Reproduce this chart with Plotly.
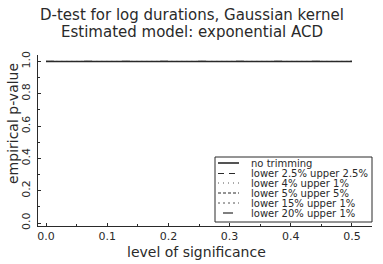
import plotly.graph_objects as go

levels = [0.0, 0.05, 0.1, 0.15, 0.2, 0.25, 0.3, 0.35, 0.4, 0.45, 0.5]
series_names = ["no trimming", "lower 2.5% upper 2.5%", "lower 4% upper 1%",
                "lower 5% upper 5%", "lower 15% upper 1%", "lower 20% upper 1%"]
pvalues = {
    "no trimming":           [1.0, 1.0, 1.0, 1.0, 1.0, 1.0, 1.0, 1.0, 1.0, 1.0, 1.0],
    "lower 2.5% upper 2.5%": [1.0, 1.0, 1.0, 1.0, 1.0, 1.0, 1.0, 1.0, 1.0, 1.0, 1.0],
    "lower 4% upper 1%":     [1.0, 1.0, 1.0, 1.0, 1.0, 1.0, 1.0, 1.0, 1.0, 1.0, 1.0],
    "lower 5% upper 5%":     [1.0, 1.0, 1.0, 1.0, 1.0, 1.0, 1.0, 1.0, 1.0, 1.0, 1.0],
    "lower 15% upper 1%":    [1.0, 1.0, 1.0, 1.0, 1.0, 1.0, 1.0, 1.0, 1.0, 1.0, 1.0],
    "lower 20% upper 1%":    [1.0, 1.0, 1.0, 1.0, 1.0, 1.0, 1.0, 1.0, 1.0, 1.0, 1.0],
}
dashes = ["solid", "6px,5px", "1px,4px", "3px,2px", "2px,3px", "8px,30px"]
widths = [1.6, 1.1, 0.8, 1.1, 0.8, 1.2]
x_ticks = [0.0, 0.1, 0.2, 0.3, 0.4, 0.5]
x_ticklabels = ["0.0", "0.1", "0.2", "0.3", "0.4", "0.5"]
y_ticks = [0.0, 0.2, 0.4, 0.6, 0.8, 1.0]
y_ticklabels = ["0.0", "0.2", "0.4", "0.6", "0.8", "1.0"]

W, H = 383, 264
L, R, T, B = 38, 11, 55, 38
ink = "#2a2a2a"
FONT = "DejaVu Sans"


def px(x):
    return (x - L) / (W - L - R)


def py(y):
    return (H - B - y) / (H - T - B)


fig = go.Figure()
for name, d, w in zip(series_names, dashes, widths):
    fig.add_trace(go.Scatter(x=levels, y=pvalues[name], mode="lines", name=name,
                             showlegend=False, hoverinfo="skip",
                             line=dict(color=ink, width=w, dash=d)))

shapes = []
annotations = []
# legend box
shapes.append(dict(type="rect", xref="paper", yref="paper",
                   x0=px(215), x1=px(372), y0=py(222), y1=py(157),
                   line=dict(color=ink, width=1), fillcolor="white", layer="above"))
row_y = [163, 173.5, 183, 193, 203, 213]
for name, d, w, ry in zip(series_names, dashes, widths, row_y):
    shapes.append(dict(type="line", xref="paper", yref="paper",
                       x0=px(218), x1=px(239), y0=py(ry), y1=py(ry),
                       line=dict(color=ink, width=w, dash=("6px,5px" if d == "8px,30px" else d)),
                       layer="above"))
    annotations.append(dict(text=name, xref="paper", yref="paper",
                            x=px(249), y=py(ry), xanchor="left", yanchor="middle",
                            showarrow=False, font=dict(size=10, family=FONT, color=ink)))
# last legend sample: single short dash in the middle
shapes[-1]["x0"] = px(223)
shapes[-1]["x1"] = px(233)
shapes[-1]["line"]["dash"] = "solid"

# title lines
annotations.append(dict(text="D-test for log durations, Gaussian kernel", xref="paper", yref="paper",
                        x=px(192), y=py(15), xanchor="center", yanchor="middle", showarrow=False,
                        font=dict(size=15, family=FONT, color=ink)))
annotations.append(dict(text="Estimated model: exponential ACD", xref="paper", yref="paper",
                        x=px(192), y=py(32), xanchor="center", yanchor="middle", showarrow=False,
                        font=dict(size=15, family=FONT, color=ink)))
# axis titles
annotations.append(dict(text="level of significance", xref="paper", yref="paper",
                        x=px(196), y=py(252), xanchor="center", yanchor="middle", showarrow=False,
                        font=dict(size=14, family=FONT, color=ink)))
annotations.append(dict(text="empirical p-value", xref="paper", yref="paper",
                        x=px(13), y=py(124), xanchor="center", yanchor="middle", showarrow=False,
                        textangle=-90, font=dict(size=14, family=FONT, color=ink)))

fig.update_layout(
    width=W, height=H,
    margin=dict(l=L, r=R, t=T, b=B),
    paper_bgcolor="white", plot_bgcolor="white",
    font=dict(family=FONT, color=ink, size=9),
    shapes=shapes, annotations=annotations,
    showlegend=False, hovermode=False,
    xaxis=dict(range=[-0.0131, 0.5327], tickvals=x_ticks, ticktext=x_ticklabels,
               automargin=False, fixedrange=True,
               showgrid=False, zeroline=False, showline=True, linecolor=ink, linewidth=1.2,
               ticks="inside", ticklen=3, tickcolor=ink,
               minor=dict(ticks="inside", ticklen=2, tickcolor=ink, dtick=0.05),
               tickfont=dict(size=11)),
    yaxis=dict(range=[-0.0185, 1.04], tickvals=y_ticks, ticktext=y_ticklabels,
               automargin=False, fixedrange=True,
               showgrid=False, zeroline=False, showline=True, linecolor=ink, linewidth=1.2,
               ticks="inside", ticklen=3, tickcolor=ink, tickangle=-90,
               minor=dict(ticks="inside", ticklen=2, tickcolor=ink, dtick=0.1),
               ticklabelstandoff=3,
               tickfont=dict(size=11)),
)
fig.write_html("out.html", config={"displayModeBar": False},
               post_script="document.body.style.margin='0';")
